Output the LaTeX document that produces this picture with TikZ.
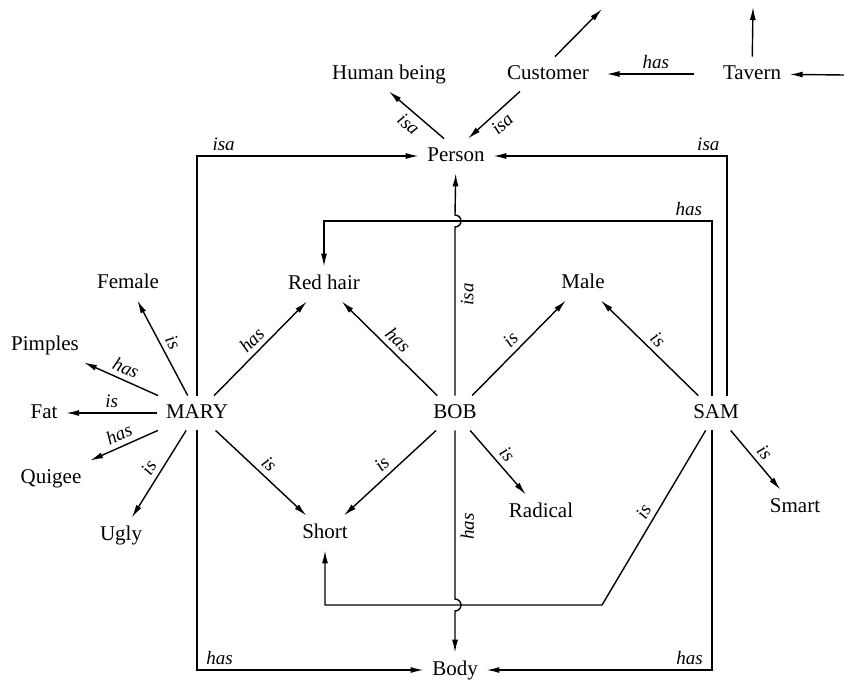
\documentclass[tikz,border=0pt]{standalone}
\usepackage{fontspec}
\setmainfont{Liberation Serif}
\usetikzlibrary{arrows.meta}

\begin{document}
\begin{tikzpicture}[x=0.5pt, y=-0.5pt, line width=0.7pt,
    every node/.style={font=\fontsize{10.5}{12}\selectfont}]
    \tikzstyle{concept}=[inner xsep=4pt, inner ysep=4pt, text height=1.6ex, text depth=0.3ex]
    \tikzstyle{arr}=[-{Latex[length=6.5pt,width=3pt]}]
    \tikzstyle{lbl}=[font=\fontsize{9.5}{11}\selectfont\itshape, inner sep=2.5pt]
    \tikzstyle{vlbl}=[lbl, rotate=90, anchor=north]

    \useasboundingbox (0,0) rectangle (844,679);

    % top row
    \node[concept] (human) at (389,74) {Human being};
    \node[concept] (customer) at (548,74) {Customer};
    \node[concept] (tavern) at (752,74) {Tavern};
    \node[concept] (person) at (456,156) {Person};

    \node[concept] (female) at (128,283) {Female};
    \node[concept] (redhair) at (324,284) {Red hair};
    \node[concept] (male) at (583,283) {Male};
    \node[concept] (pimples) at (45,345) {Pimples};

    % the three people
    \node[concept] (mary) at (197,413) {MARY};
    \node[concept] (bob) at (455,413) {BOB};
    \node[concept] (sam) at (716,413) {SAM};

    \node[concept] (fat) at (44,413) {Fat};
    \node[concept] (quigee) at (51,478) {Quigee};
    \node[concept] (radical) at (541,512) {Radical};
    \node[concept] (smart) at (795,507) {Smart};
    \node[concept] (ugly) at (121,535) {Ugly};
    \node[concept] (short) at (325,533) {Short};
    \node[concept] (body) at (455,670) {Body};

    \coordinate (custout) at (602,9);
    \coordinate (tavup) at (753,7);
    \coordinate (tavin) at (844,75);
    \coordinate (hopup) at (455,221);
    \coordinate (hopdown) at (455,605);
    \coordinate (kink) at (602,605);

    \draw[arr] ([xshift=-6pt]person.north) -- node[lbl, sloped, below] {isa} (human.south);
    \draw[arr] ([xshift=-14pt]customer.south) -- node[lbl, sloped, below] {isa} ([xshift=6pt]person.north);
    \draw[arr] ([xshift=3.5pt]customer.north) -- (custout);
    \draw[arr, shorten <=10pt, shorten >=4.5pt] (tavern) -- node[lbl, above] {has} (customer);
    \draw[arr] (tavern) -- (tavup);
    \draw[arr] (tavin) -- (tavern);

    \draw[arr] (mary) -- node[lbl, sloped, above] {is} (female);
    \draw[arr] (mary) -- node[lbl, sloped, above] {has} (pimples);
    \draw[arr] (mary) -- node[lbl, sloped, above] {is} (fat);
    \draw[arr] (mary) -- node[lbl, sloped, above] {has} (quigee);
    \draw[arr] (mary) -- node[lbl, sloped, above] {is} (ugly);
    \draw[arr] (mary) -- node[lbl, sloped, above] {has} (redhair);
    \draw[arr] (mary) -- node[lbl, sloped, above] {is} (short);
    \draw[arr] (mary) |- node[lbl, pos=0.56, above] {isa} (person);
    \draw[arr] (mary) |- node[lbl, pos=0.55, above] {has} (body);

    \draw[arr] (bob) -- node[lbl, sloped, above] {has} (redhair);
    \draw[arr] (bob) -- node[lbl, sloped, above] {is} (male);
    \draw[arr] (bob) -- node[lbl, sloped, above] {is} (short);
    \draw[arr] (bob) -- node[lbl, sloped, above] {is} (radical);
    \draw[arr] (bob) -- node[vlbl, pos=0.6] {isa} ([yshift=-3pt]hopup)
        arc[start angle=-90, end angle=90, radius=3pt] -- (person);
    \draw[arr] (bob) -- node[vlbl, pos=0.57] {has} ([yshift=3pt]hopdown)
        arc[start angle=90, end angle=-90, radius=3pt] -- (body);

    \draw[arr] (sam) -- node[lbl, sloped, above] {is} (male);
    \draw[arr] (sam) -- node[lbl, sloped, above] {is} (smart);
    \draw[arr] (sam) -- node[lbl, sloped, above] {is} (kink) -| (short);
    \draw[arr] ([xshift=5.5pt]sam.north) |- node[lbl, pos=0.54, above] {isa} (person);
    \draw[arr] ([xshift=-2pt]sam.north) |- node[lbl, pos=0.53, above] {has} (redhair |- hopup) -- (redhair);
    \draw[arr] ([xshift=-2pt]sam.south) |- node[lbl, pos=0.55, above] {has} (body);
\end{tikzpicture}
\end{document}
